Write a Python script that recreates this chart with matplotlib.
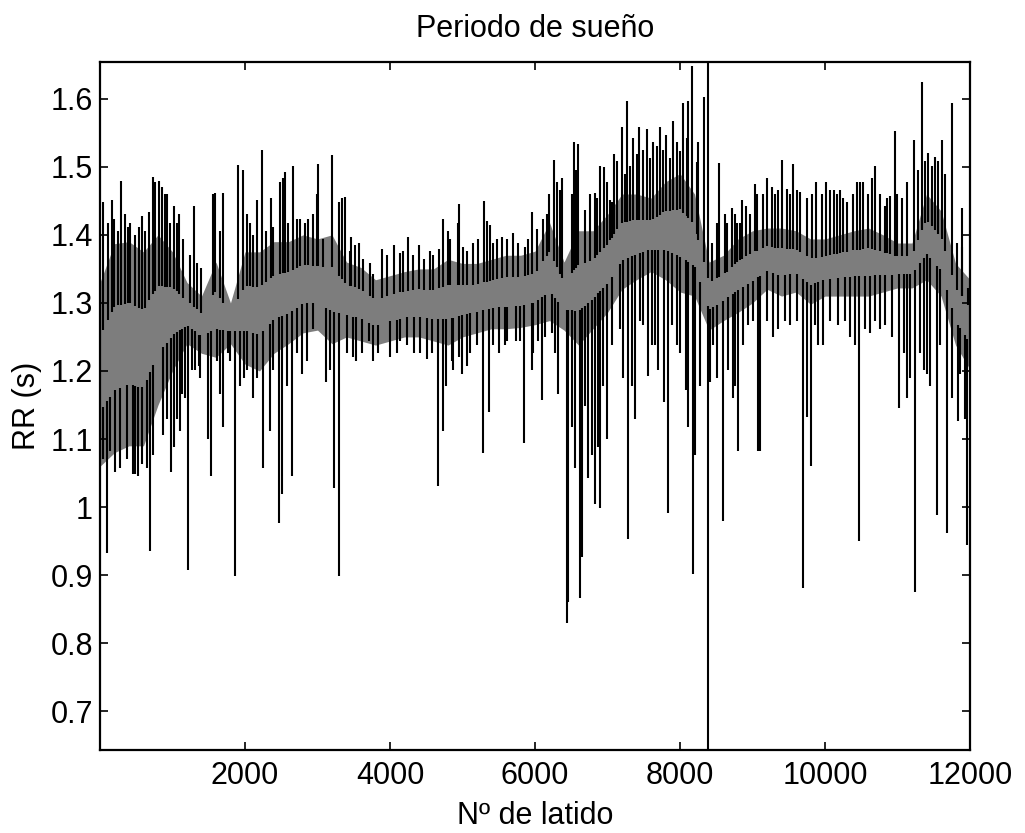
import numpy as np
import matplotlib
matplotlib.use("Agg")
import matplotlib.pyplot as plt
from matplotlib.ticker import FuncFormatter, FixedLocator

plt.rcParams['font.family'] = ['Liberation Sans', 'DejaVu Sans']

# Core band of the RR series (beat number, upper / lower edge in seconds)
band_beats = list(range(0, 12001, 200))
band_hi = [1.33, 1.387, 1.39, 1.375, 1.40, 1.375, 1.33, 1.31, 1.36, 1.30, 1.375, 1.375, 1.39, 1.39, 1.40, 1.394,
           1.40, 1.36, 1.352, 1.334, 1.34, 1.346, 1.35, 1.35, 1.364, 1.358, 1.358, 1.364, 1.37, 1.37, 1.376,
           1.418, 1.36, 1.406, 1.406, 1.43, 1.46, 1.46, 1.454, 1.478, 1.49, 1.46, 1.36, 1.37, 1.394, 1.406,
           1.41, 1.41, 1.406, 1.394, 1.394, 1.40, 1.406, 1.41, 1.40, 1.388, 1.388, 1.46, 1.435, 1.358, 1.334]
band_lo = [1.06, 1.08, 1.09, 1.09, 1.15, 1.20, 1.24, 1.226, 1.22, 1.24, 1.21, 1.20, 1.226, 1.24, 1.256, 1.26,
           1.24, 1.25, 1.244, 1.238, 1.244, 1.25, 1.25, 1.244, 1.238, 1.25, 1.256, 1.262, 1.262, 1.264, 1.268,
           1.274, 1.26, 1.238, 1.262, 1.286, 1.32, 1.334, 1.346, 1.334, 1.316, 1.31, 1.26, 1.274, 1.286, 1.30,
           1.32, 1.31, 1.316, 1.298, 1.31, 1.31, 1.31, 1.31, 1.316, 1.322, 1.322, 1.334, 1.31, 1.238, 1.202]

# Long RR intervals (large upward excursions)
peak_beats = [161, 198, 290, 345, 414, 543, 575, 681, 736, 759, 819, 851, 920, 966, 1021, 1095, 1150,
              1297, 1394, 1564, 1587, 1702, 1909, 1969, 2070, 2162, 2240, 2291, 2360, 2484, 2521, 2553,
              2659, 2760, 2875, 2999, 3013,
              3195, 3301, 3333, 3379, 3457, 3517, 3577, 3632, 3770, 3885, 4060, 4138, 4253, 4405, 4474,
              4598, 4676, 4736, 4796, 4943, 4957, 5058, 5150, 5297, 5334, 5380, 5426, 5541, 5702, 5863,
              5964, 6024,
              6161, 6262, 6299, 6368, 6538, 6566, 6598, 6828, 6897, 6952, 7035, 7090, 7196, 7274, 7357,
              7435, 7550, 7633, 7725, 7808, 7909, 8001, 8047, 8116, 8162, 8254, 8330, 8384, 8438, 8544,
              8645, 8714, 8783, 8852, 8912, 9036,
              9204, 9310, 9402, 9471, 9563, 9655, 9876, 10014, 10124, 10207, 10308, 10437, 10529, 10598,
              10690, 10828, 10897, 10966, 11058, 11228, 11343, 11426, 11518, 11610, 11748, 11890]
peak_rr = [1.451, 1.424, 1.479, 1.430, 1.418, 1.412, 1.427, 1.433, 1.485, 1.478, 1.479, 1.471, 1.460, 1.418,
           1.442, 1.430, 1.394, 1.442, 1.352, 1.460, 1.462, 1.462, 1.503, 1.496, 1.418, 1.451, 1.524, 1.406,
           1.454, 1.478, 1.484, 1.492, 1.501, 1.424, 1.424, 1.460, 1.504,
           1.517, 1.448, 1.454, 1.456, 1.397, 1.385, 1.388, 1.364, 1.343, 1.379, 1.385, 1.373, 1.397, 1.385,
           1.364, 1.370, 1.379, 1.424, 1.406, 1.418, 1.445, 1.376, 1.388, 1.450, 1.421, 1.415, 1.388, 1.397,
           1.403, 1.382, 1.433, 1.409,
           1.430, 1.510, 1.478, 1.484, 1.537, 1.495, 1.534, 1.462, 1.501, 1.499, 1.451, 1.519, 1.558, 1.597,
           1.543, 1.558, 1.555, 1.537, 1.558, 1.546, 1.567, 1.523, 1.594, 1.597, 1.648, 1.537, 1.603, 1.654,
           1.388, 1.505, 1.418, 1.439, 1.418, 1.451, 1.442, 1.474,
           1.483, 1.460, 1.510, 1.468, 1.504, 1.463, 1.478, 1.478, 1.466, 1.466, 1.448, 1.478, 1.478, 1.460,
           1.501, 1.442, 1.457, 1.552, 1.454, 1.540, 1.624, 1.520, 1.514, 1.540, 1.594, 1.440]

# Short RR intervals (large downward excursions)
dip_beats = [92, 207, 460, 483, 529, 644, 690, 874, 975, 1021, 1067, 1104, 1173, 1219, 1311, 1371, 1486,
             1536, 1619, 1702, 1762, 1794, 1863, 1992, 2024, 2116, 2254, 2346, 2475, 2507, 2645, 2714,
             2783, 2944,
             3117, 3227, 3301, 3494, 3531, 3710, 3770, 4000, 4138, 4336, 4506, 4667, 4727, 4773, 4874,
             4957, 4989, 5058, 5196, 5279, 5371, 5504, 5619, 5734, 5854, 5955, 6047,
             6092, 6230, 6322, 6437, 6460, 6621, 6644, 6736, 6782, 6828, 6897, 6989, 7219, 7288, 7380,
             7449, 7564, 7656, 7780, 7831, 7955, 8079, 8185, 8208, 8385, 8415, 8461, 8599, 8728, 8806,
             8944, 9082,
             9103, 9287, 9448, 9701, 9756, 9802, 9862, 9977, 10345, 10469, 10621, 10759, 11026, 11090,
             11127, 11242, 11366, 11403, 11541, 11679, 11840, 11964]
dip_rr = [0.932, 1.052, 1.049, 1.049, 1.046, 1.058, 0.935, 1.106, 1.052, 1.088, 1.130, 1.112, 1.160, 0.908,
          1.202, 1.208, 1.100, 1.046, 1.214, 1.118, 1.226, 1.214, 0.899, 1.190, 1.202, 1.160, 1.058, 1.112,
          0.977, 1.019, 1.046, 1.226, 1.196, 1.262,
          1.184, 1.028, 0.899, 1.220, 1.214, 1.244, 1.214, 1.220, 1.244, 1.226, 1.217, 1.031, 1.112, 1.178,
          1.202, 1.220, 1.196, 1.208, 1.238, 1.079, 1.139, 1.226, 1.244, 1.244, 1.094, 1.202, 1.244,
          1.157, 1.256, 1.166, 0.830, 0.860, 0.866, 0.926, 1.043, 1.076, 1.004, 0.998, 1.100, 1.190, 0.953,
          1.130, 1.274, 1.193, 1.238, 1.154, 0.992, 1.238, 1.172, 0.902, 1.076, 0.643, 1.184, 1.238, 0.980,
          1.160, 1.082, 1.268, 1.082,
          1.082, 1.250, 1.274, 0.881, 1.133, 1.061, 1.268, 1.238, 1.250, 0.950, 1.256, 1.262, 1.145, 1.226,
          1.160, 0.875, 1.202, 1.196, 0.989, 0.962, 1.127, 0.944]

# Smaller excursions along the edges of the band
minor_peak_beats = [46, 115, 253, 391, 483, 621, 897, 1058, 1242, 1334, 1656, 2024, 2116, 2392, 2599, 2714,
                    2829, 2944,
                    3080, 3448, 3724, 3954, 4184, 4322, 4552, 4828, 5012, 5219, 5472, 5610, 5771, 5909,
                    6115, 6198, 6345, 6506, 6690, 6759, 6860, 6989, 7058, 7136, 7242, 7311, 7403, 7495,
                    7587, 7679, 7771, 7863, 7955, 8093, 8231, 8507, 8622, 8760, 8829, 8967, 9059,
                    9149, 9264, 9356, 9517, 9609, 9747, 9816, 9954, 10069, 10170, 10253, 10391, 10483,
                    10644, 10759, 10851, 10989, 11127, 11288, 11380, 11472, 11564, 11656, 11817, 11886, 11978]
minor_peak_rr = [1.448, 1.418, 1.406, 1.412, 1.400, 1.406, 1.460, 1.418, 1.370, 1.358, 1.406, 1.430, 1.400,
                 1.412, 1.418, 1.424, 1.418, 1.430,
                 1.394, 1.376, 1.358, 1.370, 1.376, 1.370, 1.376, 1.394, 1.382, 1.394, 1.394, 1.394, 1.388,
                 1.394,
                 1.424, 1.460, 1.466, 1.460, 1.436, 1.460, 1.454, 1.478, 1.448, 1.508, 1.490, 1.501, 1.519,
                 1.525, 1.513, 1.531, 1.525, 1.513, 1.537, 1.543, 1.507, 1.418, 1.430, 1.430, 1.418, 1.430,
                 1.460,
                 1.460, 1.471, 1.466, 1.460, 1.466, 1.454, 1.460, 1.460, 1.466, 1.460, 1.454, 1.460, 1.478,
                 1.484, 1.460, 1.454, 1.460, 1.478, 1.496, 1.508, 1.501, 1.508, 1.490, 1.388, 1.382, 1.322]

minor_dip_beats = [37, 138, 276, 368, 575, 736, 920, 1127, 1265, 1380, 1656, 1932, 2162, 2392, 2576, 2852,
                   3172, 3402, 3609, 3839, 4092, 4230, 4414, 4575, 4851, 5104, 5426, 5587, 5794, 5978,
                   6138, 6276, 6506, 6552, 6690, 6874, 6943, 7058, 7173, 7334, 7495, 7610, 7702, 7886, 8001,
                   8116, 8277, 8507, 8668, 8760, 8875, 9013,
                   9195, 9356, 9517, 9609, 9908, 10069, 10184, 10276, 10414, 10552, 10690, 10828, 10920,
                   11173, 11311, 11449, 11587, 11748, 11863, 11932]
minor_dip_rr = [1.070, 1.082, 1.058, 1.070, 1.064, 1.076, 1.130, 1.166, 1.202, 1.190, 1.166, 1.178, 1.190,
                1.202, 1.178, 1.214,
                1.202, 1.226, 1.226, 1.226, 1.226, 1.238, 1.226, 1.226, 1.214, 1.226, 1.238, 1.238, 1.244,
                1.226,
                1.250, 1.226, 1.118, 1.058, 1.148, 1.088, 1.178, 1.238, 1.262, 1.178, 1.268, 1.238, 1.202,
                1.268, 1.226, 1.118, 1.178, 1.190, 1.202, 1.178, 1.238, 1.274,
                1.274, 1.262, 1.268, 1.274, 1.238, 1.274, 1.268, 1.274, 1.238, 1.262, 1.274, 1.268, 1.250,
                1.190, 1.226, 1.178, 1.238, 1.160, 1.196, 1.130]

x_ticks = [2000, 4000, 6000, 8000, 10000, 12000]
y_ticks = [0.7, 0.8, 0.9, 1.0, 1.1, 1.2, 1.3, 1.4, 1.5, 1.6]

fig = plt.figure(figsize=(10.25, 8.33), dpi=100)
ax = fig.add_axes([0.0976, 0.0996, 0.8488, 0.8260])

band_beats_a = np.array(band_beats, dtype=float)
band_hi_a = np.array(band_hi)
band_lo_a = np.array(band_lo)
band_w = band_hi_a - band_lo_a

ax.fill_between(band_beats_a, band_lo_a, band_hi_a, color='#7d7d7d', linewidth=0)

# excursions leave the band from just inside its edge
all_peak_beats = peak_beats + minor_peak_beats
all_peak_rr = peak_rr + minor_peak_rr
all_dip_beats = dip_beats + minor_dip_beats
all_dip_rr = dip_rr + minor_dip_rr
peak_base = np.interp(all_peak_beats, band_beats_a, band_hi_a - 0.3 * band_w)
dip_base = np.interp(all_dip_beats, band_beats_a, band_lo_a + 0.3 * band_w)
ax.vlines(all_peak_beats, peak_base, all_peak_rr, colors='black', linewidth=1.5)
ax.vlines(all_dip_beats, all_dip_rr, dip_base, colors='black', linewidth=1.5)

ax.set_xlim(1, 12000)
ax.set_ylim(0.643, 1.654)
ax.xaxis.set_major_locator(FixedLocator(x_ticks))
ax.yaxis.set_major_locator(FixedLocator(y_ticks))
ax.xaxis.set_major_formatter(FuncFormatter(lambda v, p: f"{v:g}"))
ax.yaxis.set_major_formatter(FuncFormatter(lambda v, p: f"{v:g}"))

ax.tick_params(direction='in', length=6, width=1.2, top=True, right=True, labelsize=22)
ax.tick_params(axis='x', pad=8)
ax.tick_params(axis='y', pad=5)
for s in ax.spines.values():
    s.set_linewidth(1.6)

ax.set_title('Periodo de sueño', fontsize=22, pad=18)
ax.set_xlabel('Nº de latido', fontsize=22, labelpad=7)
ax.set_ylabel('RR (s)', fontsize=22, labelpad=6)

fig.savefig('out.png', dpi=100)
